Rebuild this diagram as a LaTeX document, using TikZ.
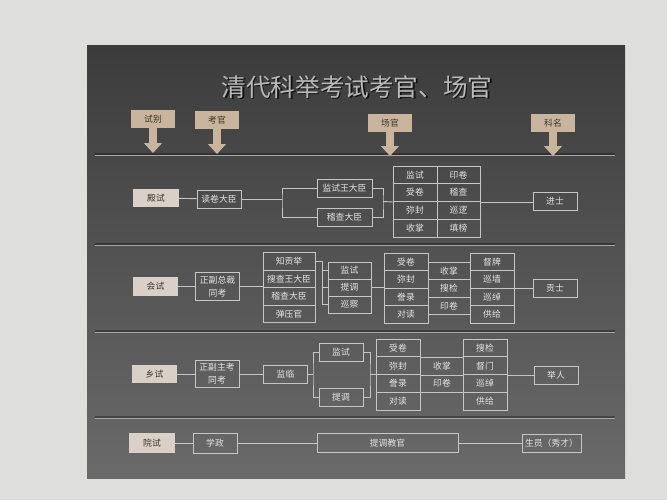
\documentclass[tikz,border=0pt]{standalone}
\usepackage{fontspec}
\setmainfont{Noto Sans CJK SC}
\usetikzlibrary{arrows.meta,positioning}
\definecolor{wall}{HTML}{DEDEDC}
\definecolor{boardtop}{HTML}{3C3C3C}
\definecolor{boardbot}{HTML}{6A6A6A}
\definecolor{linec}{HTML}{C6C6C6}
\definecolor{txtc}{HTML}{E4E4E4}
\definecolor{headc}{HTML}{C9B59C}
\definecolor{tagc}{HTML}{D9D1C7}
\definecolor{darktxt}{HTML}{3A3430}

\begin{document}
\begin{tikzpicture}[x=0.03cm,y=-0.03cm]
    \tikzstyle{every node}=[font=\fontsize{7.5}{9}\selectfont, inner sep=0pt]
    \tikzstyle{box}=[draw=linec, line width=0.8pt, text=txtc, minimum width=1.32cm, minimum height=0.54cm]
    \tikzstyle{cell}=[box, minimum height=0.5325cm]
    \tikzstyle{tag}=[fill=tagc, text=darktxt, minimum width=1.36cm, minimum height=0.55cm]
    \tikzstyle{head}=[fill=headc, text=darktxt, minimum width=1.3cm, minimum height=0.52cm]
    \tikzstyle{link}=[draw=linec, line width=0.8pt]
    \tikzstyle{fat}=[draw=headc, line width=7pt, -{Triangle[width=15pt,length=8.5pt]}]

    \useasboundingbox (0,0) rectangle (667,500);
    \fill[wall] (0,0) rectangle (667,500);
    \shade[top color=boardtop, bottom color=boardbot] (87,45) rectangle (625,478);
    \foreach \y in {155,245,332,418} {
        \draw[black, opacity=0.3, line width=1.4pt] (95,{\y-1}) -- (615,{\y-1});
        \draw[gray!70, line width=0.5pt] (95,{\y+0.5}) -- (615,{\y+0.5});
    }

    % title
    \node (tsh) [font=\fontsize{21}{21}\selectfont, text=black, opacity=0.7] at (358.5,88.5) {清代科举考试考官、场官};
    \node (title) [font=\fontsize{21}{21}\selectfont, text=gray!55] at (357,87) {清代科举考试考官、场官};

    % column heads
    \node[head] (sb) at (153,119) {试别};
    \node[head] (kg) at (217,120) {考官};
    \node[head] (cg) at (390,123) {场官};
    \node[head] (km) at (553,123) {科名};
    \coordinate (sb0) at (153,153);
    \coordinate (kg0) at (217,154);
    \coordinate (cg0) at (390,156);
    \coordinate (km0) at (553,156);
    \draw[fat] (sb.south) -- (sb0);
    \draw[fat] (kg.south) -- (kg0);
    \draw[fat] (cg.south) -- (cg0);
    \draw[fat] (km.south) -- (km0);

    % 殿试
    \node[tag] (ds) at (156,198) {殿试};
    \node[box] (dj) at (219,199) {读卷大臣};
    \node[box, minimum width=1.65cm] (djw) at (344.5,188) {监试王大臣};
    \node[box, minimum width=1.65cm] (djc) at (344.5,217.5) {稽查大臣};
    \foreach \a/\b [count=\i] in {监试/印卷,受卷/稽查,弥封/巡逻,收掌/填榜} {
        \node[cell] (dl\i) at (415,{157.125+17.75*\i}) {\a};
        \node[cell, minimum width=1.29cm] (dr\i) at (458.5,{157.125+17.75*\i}) {\b};
    }
    \node[box] (jsh) at (555,201.5) {进士};
    \coordinate (dk) at (282,199);
    \coordinate (dm) at (383,201.5);
    \draw[link] (ds) -- (dj);
    \draw[link] (dj) -- (dk);
    \draw[link] (djw.west) -| (dk) |- (djc.west);
    \draw[link] (djw.east) -| (dm) |- (djc.east);
    \draw[link] (dm) -- (dl2.south west);
    \draw[link] (dr2.south east) -- (dr2.south east -| jsh.west);

    % 会试
    \node[tag] (hs) at (155.5,286.5) {会试};
    \node[box, minimum height=0.84cm, align=center, font=\fontsize{7.5}{11}\selectfont] (hz) at (217.5,286.5) {正副总裁\\同考};
    \foreach \t [count=\i] in {知贡举,搜查王大臣,稽查大臣,弹压官}
        \node[cell, minimum width=1.56cm, minimum height=0.525cm] (ha\i) at (289,{243.75+17.5*\i}) {\t};
    \foreach \t [count=\i] in {监试,提调,巡察}
        \node[cell, minimum width=1.29cm, minimum height=0.51cm] (hb\i) at (349.5,{253.5+17*\i}) {\t};
    \foreach \t [count=\i] in {受卷,弥封,誊录,对读}
        \node[cell, minimum height=0.525cm] (hc\i) at (406,{244.5+17.5*\i}) {\t};
    \foreach \t [count=\i] in {督牌,巡墙,巡绰,供给}
        \node[cell, minimum height=0.525cm] (he\i) at (492,{244.5+17.5*\i}) {\t};
    \foreach \t [count=\i] in {收掌,搜检,印卷}
        \node[text=txtc] (hd\i) at (449,{253.25+17.5*\i}) {\t};
    \node[box] (gs) at (555,288.25) {贡士};
    \coordinate (hk) at (322,261.25);
    \draw[link] (hs) -- (hz);
    \draw[link] (hz.east) -- (hz.east -| ha1.west);
    \draw[link] (ha1.east) -- (hk) |- (hb3.west);
    \draw[link] (hk |- hb1) -- (hb1.west);
    \draw[link] (hk |- hb2) -- (hb2.west);
    \draw[link] (hb2.east) -- (hb2.east -| hc1.west);
    \foreach \i in {1,...,4}
        \draw[link] (hc\i.east) -- (he\i.west);
    \draw[link] (he2.south east) -- (he2.south east -| gs.west);

    % 乡试
    \node[tag] (xs) at (154.5,374) {乡试};
    \node[box, minimum height=0.8cm, align=center, font=\fontsize{7.5}{11}\selectfont] (xz) at (217,374) {正副主考\\同考};
    \node[box] (xl) at (285.5,374) {监临};
    \node[box] (xj) at (341,352) {监试};
    \node[box] (xt) at (341,397) {提调};
    \foreach \t [count=\i] in {受卷,弥封,誊录,对读}
        \node[cell] (xc\i) at (398,{330.25+17.75*\i}) {\t};
    \foreach \t [count=\i] in {搜检,督门,巡绰,供给}
        \node[cell] (xe\i) at (485,{330.25+17.75*\i}) {\t};
    \node[text=txtc] (xd1) at (442,365.75) {收掌};
    \node[text=txtc] (xd2) at (442,383.5) {印卷};
    \node[box] (jr) at (556,375.5) {举人};
    \coordinate (xk) at (313,374);
    \coordinate (xm) at (370,374.6);
    \draw[link] (xs) -- (xz);
    \draw[link] (xz) -- (xl);
    \draw[link] (xl) -- (xk);
    \draw[link] (xj.west) -| (xk) |- (xt.west);
    \draw[link] (xj.east) -| (xm) |- (xt.east);
    \draw[link] (xm) -- (xm -| xc1.west);
    \foreach \i in {1,2,3}
        \draw[link] (xc\i.south east) -- (xe\i.south west);
    \draw[link] (xe2.south east) -- (xe2.south east -| jr.west);

    % 院试
    \node[tag, minimum height=0.6cm] (ys) at (152,443) {院试};
    \node[box, minimum height=0.6cm] (yx) at (215,443) {学政};
    \node[box, minimum width=4.23cm, minimum height=0.57cm] (yt) at (387.5,443) {提调教官};
    \node[box, minimum width=1.77cm] (sy) at (551.5,443) {生员（秀才）};
    \draw[link] (ys) -- (yx);
    \draw[link] (yx) -- (yt);
    \draw[link] (yt) -- (sy);
\end{tikzpicture}
\end{document}
